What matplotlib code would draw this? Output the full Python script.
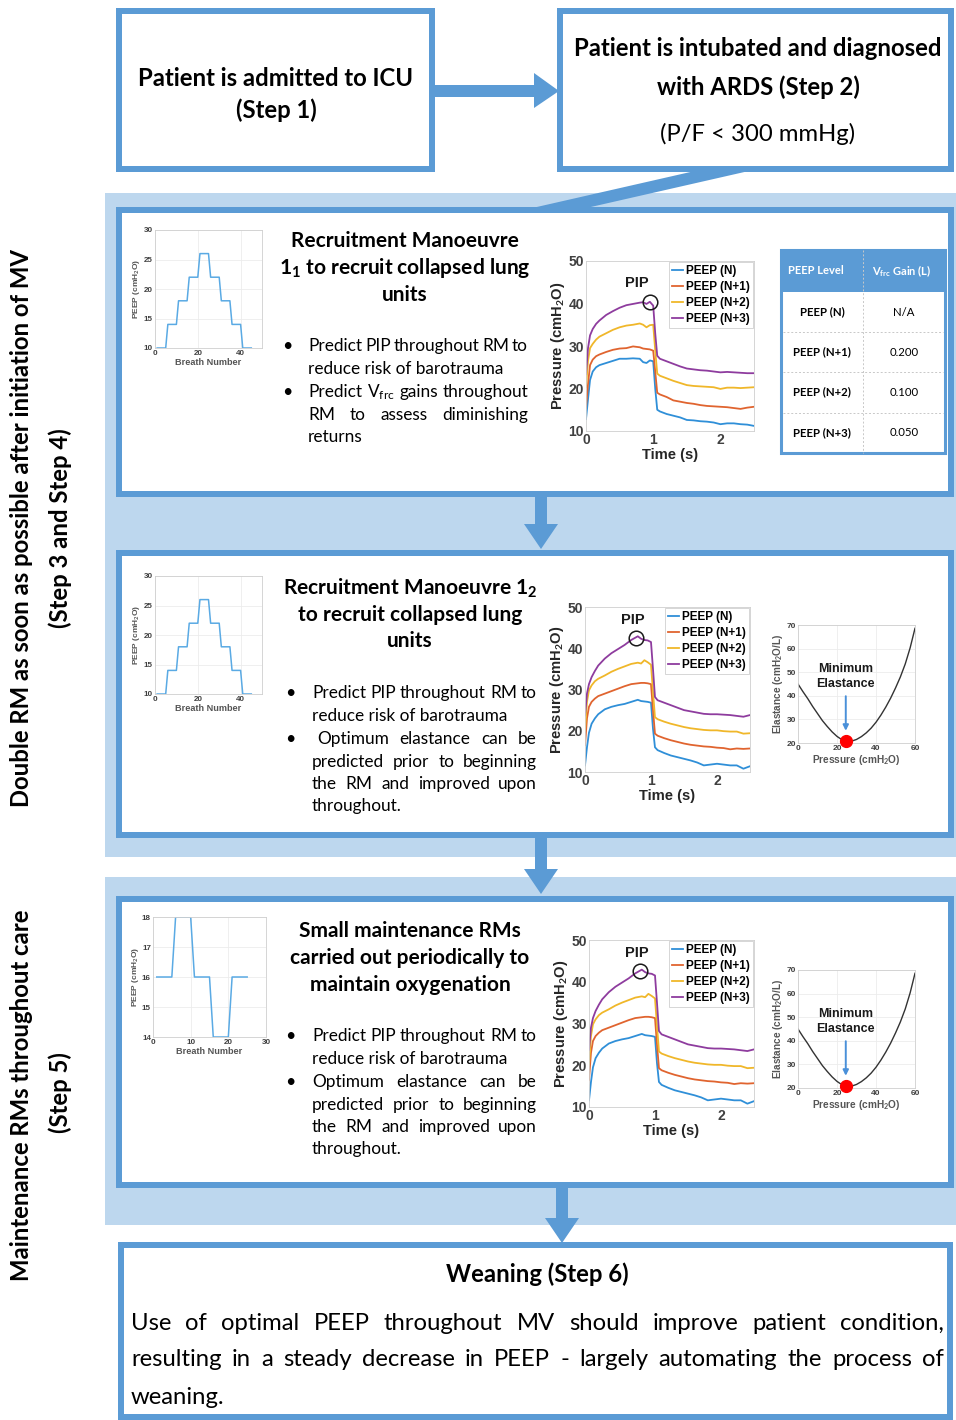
import matplotlib
matplotlib.use('Agg')
import matplotlib.pyplot as plt
import numpy as np
from matplotlib.patches import Rectangle, Polygon

# ---------------- data ----------------
rm_levels = [10, 14, 18, 22, 26, 22, 18, 14, 10]   # PEEP staircase during RM (cmH2O)
maint_levels = [16, 18, 16, 14, 16]                # PEEP steps of a maintenance RM
breaths_per_level = 5

t_s = [0, 0.03, 0.06, 0.1, 0.15, 0.2, 0.3, 0.4, 0.5, 0.6, 0.7, 0.8, 0.85, 0.9, 0.95, 1.0,
       1.03, 1.06, 1.1, 1.2, 1.3, 1.4, 1.5, 1.6, 1.7, 1.8, 1.9, 2.0, 2.1, 2.2, 2.3, 2.4, 2.5]

# RM 1_1 pressure curves
rm1_n = [12.8, 17.5, 22.0, 24.0, 25.0, 25.5, 26.0, 26.5, 27.0, 27.0, 27.1, 27.0, 26.2, 26.0, 26.6, 26.4,
         20.0, 15.0, 14.6, 14.0, 13.6, 13.2, 12.6, 12.5, 12.3, 12.2, 12.0, 11.6, 11.8, 11.8, 11.6, 11.5, 11.2]
rm1_n1 = [15.5, 21.0, 25.5, 26.8, 27.6, 28.0, 28.6, 29.1, 29.4, 29.5, 29.9, 29.7, 29.4, 29.3, 29.2, 28.9,
          24.0, 19.0, 18.6, 18.0, 17.2, 16.9, 16.6, 16.4, 16.1, 15.9, 15.8, 15.7, 15.6, 15.4, 15.2, 15.5, 15.7]
rm1_n2 = [20.3, 26.5, 29.5, 30.5, 31.5, 32.2, 33.0, 33.8, 34.4, 34.8, 35.0, 35.3, 35.0, 34.4, 34.9, 35.0,
          29.0, 23.5, 23.0, 22.4, 21.8, 21.3, 20.8, 20.6, 20.5, 20.4, 20.3, 19.9, 20.2, 20.2, 20.1, 20.2, 20.3]
rm1_n3 = [23.4, 29.5, 32.5, 34.0, 35.2, 36.0, 37.3, 38.2, 39.0, 39.6, 39.9, 40.2, 40.3, 39.9, 40.4, 39.5,
          33.0, 27.7, 27.0, 26.4, 25.8, 25.2, 24.7, 24.5, 24.3, 24.2, 24.0, 23.8, 23.9, 23.8, 23.7, 23.6, 23.6]

# RM 1_2 / maintenance RM pressure curves
rm2_n = [11.6, 16.0, 19.5, 21.7, 23.0, 24.0, 25.2, 25.8, 26.2, 26.5, 27.0, 27.5, 27.2, 27.1, 27.0, 26.8,
         20.5, 16.0, 15.3, 14.6, 14.0, 13.6, 13.2, 12.8, 12.3, 11.6, 11.8, 12.0, 11.8, 11.6, 11.6, 10.8, 11.4]
rm2_n1 = [16.5, 23.0, 25.8, 27.0, 27.8, 28.4, 29.0, 29.6, 30.2, 30.8, 31.3, 31.5, 31.6, 31.6, 31.5, 31.3,
          25.0, 19.3, 18.8, 18.2, 17.7, 17.3, 16.9, 16.6, 16.4, 16.2, 16.1, 15.9, 15.8, 15.5, 15.7, 15.6, 15.7]
rm2_n2 = [20.1, 27.0, 29.8, 31.0, 32.0, 32.6, 33.4, 34.3, 35.0, 35.6, 36.2, 36.5, 36.3, 37.1, 36.6, 36.0,
          29.5, 23.3, 22.8, 22.2, 21.7, 21.3, 20.9, 20.6, 20.4, 20.2, 20.1, 20.1, 19.9, 19.8, 19.8, 19.3, 19.4]
rm2_n3 = [23.7, 29.0, 31.3, 33.0, 34.5, 35.8, 37.5, 38.8, 39.8, 40.8, 42.0, 42.9, 42.3, 42.0, 41.9, 41.5,
          35.0, 28.2, 27.4, 26.8, 26.2, 25.6, 25.0, 24.7, 24.4, 24.1, 24.0, 24.0, 23.9, 23.8, 23.6, 23.4, 23.8]

peep_labels = ['PEEP (N)', 'PEEP (N+1)', 'PEEP (N+2)', 'PEEP (N+3)']
table_header = ['PEEP Level', r'V$_{\mathregular{frc}}$ Gain (L)']
vfrc_gain = ['N/A', '0.200', '0.100', '0.050']

elast_p = [0, 2.5, 5, 7.5, 10, 12.5, 15, 17.5, 20, 22.5, 25, 27.5, 30,
           32.5, 35, 37.5, 40, 42.5, 45, 47.5, 50, 52.5, 55, 57.5, 60]
elast_e = [45.0, 41.8, 38.8, 35.5, 32.5, 29.5, 27.0, 24.7, 22.8, 21.4, 20.7, 20.8, 21.5,
           22.7, 24.3, 26.3, 28.8, 31.8, 35.2, 39.0, 43.3, 48.0, 53.5, 60.3, 68.6]
min_elast = (24.5, 20.8)

# ---------------- figure ----------------
W, H = 956, 1420
BLUE = '#5B9BD5'
LIGHT = '#BDD7EE'
line_colors = ['#2F8FD8', '#E0642F', '#F0B72A', '#8E3C9E']

plt.rcParams['font.family'] = ['Lato', 'DejaVu Sans']
plt.rcParams['mathtext.fontset'] = 'custom'
plt.rcParams['mathtext.rm'] = 'Lato'
plt.rcParams['mathtext.bf'] = 'Lato:bold'
plt.rcParams['mathtext.it'] = 'Lato:italic'

fig = plt.figure(figsize=(W / 100, H / 100), dpi=100)
ax = fig.add_axes([0, 0, 1, 1])
ax.set_xlim(0, W)
ax.set_ylim(H, 0)
ax.axis('off')
renderer = fig.canvas.get_renderer()


def px_axes(x0, y0, x1, y1):
    return fig.add_axes([x0 / W, 1 - y1 / H, (x1 - x0) / W, (y1 - y0) / H])


def box(x0, y0, x1, y1, lw=6):
    h = lw / 2
    ax.add_patch(Rectangle((x0 + h, y0 + h), x1 - x0 - lw, y1 - y0 - lw, fc='white',
                           ec=BLUE, lw=lw * 0.72, zorder=2))


def down_arrow(cx, y0, y1, shaft=6, head=17, hl=25):
    ax.add_patch(Polygon([(cx - shaft, y0), (cx + shaft, y0), (cx + shaft, y1 - hl),
                          (cx + head, y1 - hl), (cx, y1), (cx - head, y1 - hl),
                          (cx - shaft, y1 - hl)], fc=BLUE, ec='none', zorder=3))


def line(x0, x1, y, s, size, justify=False, weight='normal'):
    if not justify:
        ax.text(x0, y, s, fontsize=size, fontweight=weight, va='center', ha='left', zorder=5)
        return
    words = s.split()
    ts = [ax.text(0, y, w, fontsize=size, fontweight=weight, va='center', ha='left', zorder=5)
          for w in words]
    widths = [t.get_window_extent(renderer).width for t in ts]
    gap = (x1 - x0 - sum(widths)) / (len(words) - 1)
    x = x0
    for t, w in zip(ts, widths):
        t.set_x(x)
        x += w + gap


def ctext(x, y, s, size, weight='bold', **kw):
    ax.text(x, y, s, fontsize=size, fontweight=weight, ha='center', va='center', zorder=5, **kw)


# background bands
ax.add_patch(Rectangle((105, 193), W - 105, 857 - 193, fc=LIGHT, ec='none', zorder=0))
ax.add_patch(Rectangle((105, 877), W - 105, 1225 - 877, fc=LIGHT, ec='none', zorder=0))

# top boxes + arrows
box(116, 8, 435, 172)
box(557, 8, 954, 172)
ax.add_patch(Polygon([(435, 85), (534, 85), (534, 73), (559, 91), (534, 108), (534, 97), (435, 97)],
                     fc=BLUE, ec='none', zorder=3))
ax.add_patch(Polygon([(708, 168), (762, 168), (582, 209), (528, 209)], fc=BLUE, ec='none', zorder=1))

TB = 17.2
ctext(276, 79, 'Patient is admitted to ICU', TB)
ctext(276, 110, '(Step 1)', TB)
ctext(758, 49, 'Patient is intubated and diagnosed', TB)
ctext(758, 87, 'with ARDS (Step 2)', TB)
ctext(758, 134, '(P/F < 300 mmHg)', TB, weight='normal')

# panels
box(116, 207, 954, 497)
box(116, 550, 954, 838)
box(116, 896, 954, 1188)
box(118, 1242, 953, 1420)
down_arrow(541, 497, 549)
down_arrow(541, 838, 894)
down_arrow(562, 1188, 1243)

# left side labels
ctext(22, 528, 'Double RM as soon as possible after initiation of MV', 17.2, rotation=90)
ctext(60, 528, '(Step 3 and Step 4)', 17.2, rotation=90)
ctext(22, 1095, 'Maintenance RMs throughout care', 17.2, rotation=90)
ctext(60, 1093, '(Step 5)', 17.2, rotation=90)

# panel 1 text
PT = 15
ctext(405, 241, 'Recruitment Manoeuvre', PT)
ctext(405, 268, r'1$_\mathbf{1}$ to recruit collapsed lung', PT)
ctext(405, 295, 'units', PT)
BS = 12.4
for yb in (346, 392):
    ctext(287, yb, '\u2022', 13, weight='normal')
line(308, 528, 346, 'Predict PIP throughout RM to', BS, True)
line(308, 528, 369, 'reduce risk of barotrauma', BS)
line(308, 528, 392, r'Predict V$_{\mathregular{frc}}$ gains throughout', BS, True)
line(308, 528, 415, 'RM to assess diminishing', BS, True)
line(308, 528, 437, 'returns', BS)

# panel 2 / 3 text
ctext(410, 588, r'Recruitment Manoeuvre 1$_\mathbf{2}$', PT)
ctext(410, 615, 'to recruit collapsed lung', PT)
ctext(410, 641, 'units', PT)
ctext(410, 931, 'Small maintenance RMs', PT)
ctext(410, 958, 'carried out periodically to', PT)
ctext(410, 985, 'maintain oxygenation', PT)
for y0, xo in ((693, 317), (1036, 312)):
    ys = [y0, y0 + 23, y0 + 46, y0 + 69, y0 + 91, y0 + 113]
    ctext(290, ys[0], '\u2022', 13, weight='normal')
    ctext(290, ys[2], '\u2022', 13, weight='normal')
    line(312, 537, ys[0], 'Predict PIP throughout RM to', BS, True)
    line(312, 537, ys[1], 'reduce risk of barotrauma', BS)
    line(xo, 537, ys[2], 'Optimum elastance can be', BS, True)
    line(312, 537, ys[3], 'predicted prior to beginning', BS, True)
    line(312, 537, ys[4], 'the RM and improved upon', BS, True)
    line(312, 537, ys[5], 'throughout.', BS)

# bottom box text
ctext(537, 1274, 'Weaning (Step 6)', 17.2)
line(131, 944, 1323, 'Use of optimal PEEP throughout MV should improve patient condition,', 17.2, True)
line(131, 944, 1360, 'resulting in a steady decrease in PEEP - largely automating the process of', 17.2, True)
line(131, 944, 1397, 'weaning.', 17.2)

# table (panel 1)
tx0, tx1, ty0, ty1 = 781, 945, 250, 453
ax.add_patch(Rectangle((tx0, ty0), tx1 - tx0, ty1 - ty0, fc='white', ec=BLUE, lw=2.2, zorder=3))
ax.add_patch(Rectangle((tx0, ty0), tx1 - tx0, 42, fc=BLUE, ec='none', zorder=3))
ax.plot([863, 863], [ty0, ty1], color='#c8c8c8', lw=0.7, ls=(0, (2, 2)), zorder=4)
row_y = [312, 352, 392, 433]
for yl in (332, 372, 413):
    ax.plot([tx0 + 2, tx1 - 2], [yl, yl], color='#c8c8c8', lw=0.7, ls=(0, (2, 2)), zorder=4)
ctext(816, 271, table_header[0], 8, color='white')
ctext(902, 271, table_header[1], 8, color='white')
for yr, lab, g in zip(row_y, peep_labels, vfrc_gain):
    ctext(822, yr, lab, 8.2)
    ctext(904, yr, g, 8.2, weight='normal')

# ---------------- inner plots ----------------
inner_rc = {'font.family': ['Liberation Sans', 'DejaVu Sans'], 'font.weight': 'bold',
            'axes.labelweight': 'bold'}


def style(a, fs, grid=False):
    for s in a.spines.values():
        s.set_color('#cfcfcf')
        s.set_linewidth(0.6)
    a.tick_params(length=0, labelsize=fs, labelcolor='#404040', pad=1.5)
    if grid:
        a.grid(color='#ececec', lw=0.6)
        a.set_axisbelow(True)


def peep_plot(bx, levels, xlim, ylim, xticks, yticks):
    a = px_axes(*bx)
    breaths = np.arange(1, len(levels) * breaths_per_level + 1)
    a.plot(breaths, np.repeat(levels, breaths_per_level), color='#5AAAE4', lw=1.1)
    a.set_xlim(*xlim)
    a.set_ylim(*ylim)
    a.set_xticks(xticks)
    a.set_yticks(yticks)
    a.set_xlabel('Breath Number', fontsize=6.6, labelpad=0.5, color='#555555')
    a.set_ylabel(r'PEEP (cmH$_\mathbf{2}$O)', fontsize=6.0, labelpad=1, color='#555555')
    style(a, 5.8, grid=True)


def pressure_plot(bx, curves, pip_circle, pip_text):
    a = px_axes(*bx)
    for y, c, lab in zip(curves, line_colors, peep_labels):
        a.plot(t_s, y, color=c, lw=1.3, label=lab)
    a.plot(*pip_circle, 'o', ms=10.5, mfc='none', mec='#1a1a1a', mew=1.1)
    a.text(*pip_text, 'PIP', ha='center', va='center', fontsize=10.5, color='#1a1a1a')
    a.set_xlim(0, 2.5)
    a.set_ylim(10, 50)
    a.set_xticks([0, 1, 2])
    a.set_yticks([10, 20, 30, 40, 50])
    a.set_xlabel('Time (s)', fontsize=10.6, labelpad=1, color='#262626')
    a.set_ylabel(r'Pressure (cmH$_\mathbf{2}$O)', fontsize=10.6, labelpad=1, color='#262626')
    style(a, 10)
    leg = a.legend(loc='upper right', fontsize=8.5, handlelength=0.9, handletextpad=0.25,
                   labelspacing=0.32, borderpad=0.25, borderaxespad=0.12, fancybox=False,
                   framealpha=1)
    leg.get_frame().set_edgecolor('#d0d0d0')
    leg.get_frame().set_linewidth(0.6)


def elastance_plot(bx):
    a = px_axes(*bx)
    a.plot(elast_p, elast_e, color='#333333', lw=1.0)
    a.plot(*min_elast, 'o', color='#FF0000', ms=8.5, clip_on=False, zorder=4)
    a.annotate('', xy=(min_elast[0], 24), xytext=(min_elast[0], 41),
               arrowprops=dict(arrowstyle='-|>', color='#4A90D9', lw=1.4, mutation_scale=8))
    a.text(min_elast[0], 48.2, 'Minimum\nElastance', ha='center', va='center', fontsize=9,
           color='#1a1a1a', linespacing=1.3)
    a.set_xlim(0, 60)
    a.set_ylim(20, 70)
    a.set_xticks([0, 20, 40, 60])
    a.set_yticks([20, 30, 40, 50, 60, 70])
    a.set_xlabel(r'Pressure (cmH$_\mathbf{2}$O)', fontsize=7.3, labelpad=1, color='#555555')
    a.set_ylabel(r'Elastance (cmH$_\mathbf{2}$O/L)', fontsize=7.2, labelpad=1, color='#555555')
    style(a, 6, grid=True)


with plt.rc_context(inner_rc):
    peep_plot((155, 230, 262, 348), rm_levels, (0, 50), (10, 30), [0, 20, 40], [10, 15, 20, 25, 30])
    peep_plot((155, 576, 262, 694), rm_levels, (0, 50), (10, 30), [0, 20, 40], [10, 15, 20, 25, 30])
    peep_plot((153, 917, 266, 1037), maint_levels, (0, 30), (14, 18), [0, 10, 20, 30], [14, 15, 16, 17, 18])
    pressure_plot((586, 261, 754, 431), [rm1_n, rm1_n1, rm1_n2, rm1_n3], (0.95, 40.4), (0.75, 44.8))
    pressure_plot((585, 607, 750, 772), [rm2_n, rm2_n1, rm2_n2, rm2_n3], (0.78, 42.6), (0.72, 46.8))
    pressure_plot((589, 940, 754, 1107), [rm2_n, rm2_n1, rm2_n2, rm2_n3], (0.78, 42.6), (0.72, 46.8))
    elastance_plot((798, 625, 915, 743))
    elastance_plot((798, 970, 915, 1088))

fig.savefig('out.png', dpi=100)
